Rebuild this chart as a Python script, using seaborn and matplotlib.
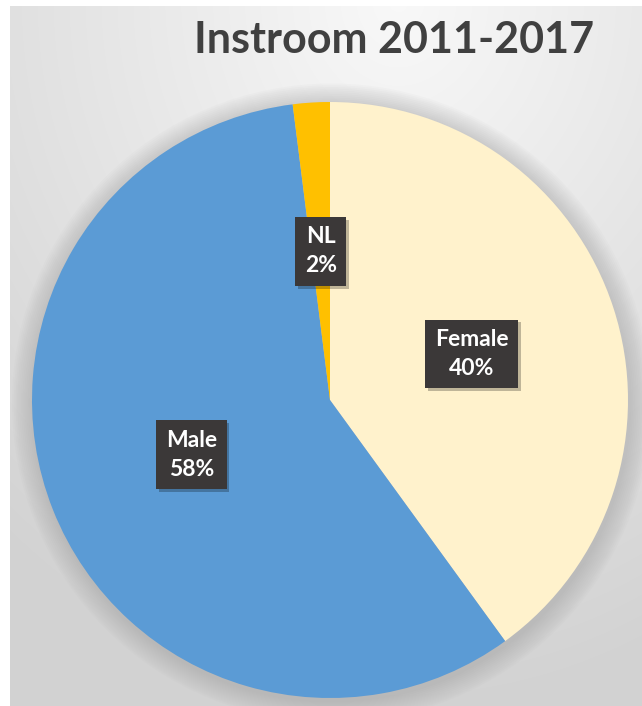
import numpy as np
import matplotlib
matplotlib.use("Agg")
import matplotlib.pyplot as plt
import matplotlib.patheffects as pe
from matplotlib.patches import Circle
import seaborn as sns

# Data
categories = ["Female", "Male", "NL"]
shares = [40, 58, 2]
title = "Instroom 2011-2017"

sns.set_theme(style="white")
plt.rcParams["font.family"] = ["Lato", "DejaVu Sans"]

colors = sns.color_palette(["#FFF2CC", "#5B9BD5", "#FFC000"])

W, H = 642, 706
fig = plt.figure(figsize=(W / 100, H / 100), dpi=100)

# Background: soft grey gradient with white strip on top/left
ax_bg = fig.add_axes([0, 0, 1, 1])
yy, xx = np.mgrid[0:H, 0:W]
d = np.sqrt(((xx / W - 0.62) / 0.95) ** 2 + ((yy / H) / 1.0) ** 2)
v = 0.975 - 0.15 * np.clip(d, 0, 1)
img = np.dstack([v, v, v])
img[:6, :, :] = 1.0
img[:, :10, :] = 1.0
ax_bg.imshow(img, extent=[0, W, H, 0], aspect="auto")
ax_bg.set_xlim(0, W)
ax_bg.set_ylim(H, 0)
ax_bg.axis("off")

# Pie axes placed in pixel geometry
cx, cy, r = 330, 400, 298
ax = fig.add_axes([(cx - r) / W, 1 - (cy + r) / H, 2 * r / W, 2 * r / H])
ax.set_xlim(-1, 1)
ax.set_ylim(-1, 1)
ax.axis("off")

# soft shadow around the pie
for k in range(12):
    ax.add_patch(Circle((0.005, -0.01), 1.0 + 0.006 * (k + 1), color="#9a9a9a",
                        alpha=0.04, lw=0, zorder=0, clip_on=False))

labels = [f"{c}\n{s}%" for c, s in zip(categories, shares)]
wedges, texts = ax.pie(shares, labels=labels, colors=colors, startangle=90,
                       counterclock=False, labeldistance=0.5, radius=1.0,
                       wedgeprops=dict(linewidth=0),
                       textprops=dict(color="white", fontsize=16.5,
                                      fontweight="bold", ha="center",
                                      va="center", linespacing=1.45))
ax.set_xlim(-1, 1)
ax.set_ylim(-1, 1)
ax.set_aspect("auto")

for t in texts:
    t.set_bbox(dict(boxstyle="square,pad=0.42", facecolor="#3b3838",
                    edgecolor="none"))
    t.get_bbox_patch().set_path_effects(
        [pe.SimplePatchShadow(offset=(2, -2), shadow_rgbFace="#000000", alpha=0.25),
         pe.Normal()])

fig.text(394 / W, 1 - 53 / H, title, ha="center", va="baseline",
         fontsize=31, fontweight="bold", color="#404040")

fig.savefig("out.png", dpi=100)
